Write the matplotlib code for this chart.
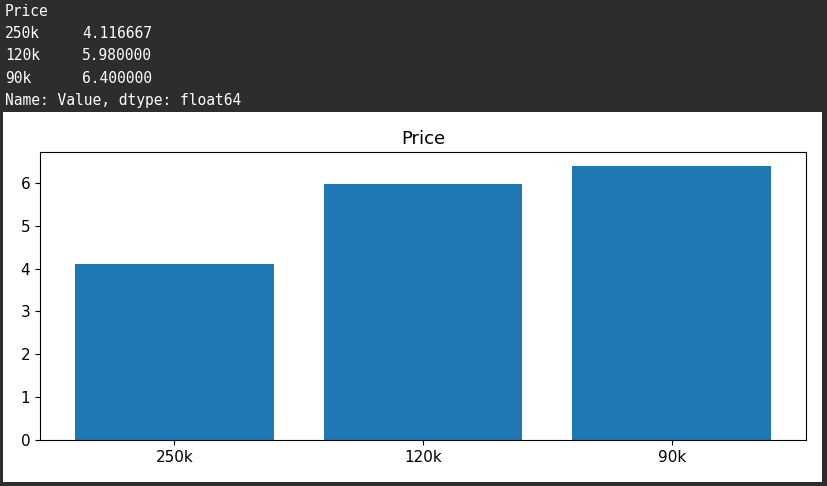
import matplotlib
matplotlib.use("Agg")
import matplotlib.pyplot as plt

categories = ["250k", "120k", "90k"]
values = [4.116667, 5.98, 6.4]

W, H = 828, 486
fig = plt.figure(figsize=(W/100, H/100), dpi=100)
fig.patch.set_facecolor("#2d2d2d")

def fy(py):
    return 1 - py / H

mono = dict(family="DejaVu Sans Mono", fontsize=10.5, color="white", va="center")
fig.text(5/W, fy(12), "Price", **mono)
for i, (c, v) in enumerate(zip(categories, values)):
    fig.text(5/W, fy(34 + 22*i), c, **mono)
    fig.text(82/W, fy(34 + 22*i), f"{v:.6f}", **mono)
fig.text(5/W, fy(100), "Name: Value, dtype: float64", **mono)

bg = fig.add_axes([3/W, 4/H, 819/W, 370/H], zorder=0)
bg.set_facecolor("white")
bg.set_xticks([]); bg.set_yticks([])
for s in bg.spines.values():
    s.set_visible(False)

ax = fig.add_axes([40/W, 46/H, 766/W, 288/H], zorder=1)
ax.bar(categories, values, color="#1f77b4")
ax.set_title("Price", fontsize=13)
ax.set_yticks(range(0, 7))
ax.tick_params(labelsize=11)
fig.savefig("out.png", dpi=100, facecolor=fig.get_facecolor())
